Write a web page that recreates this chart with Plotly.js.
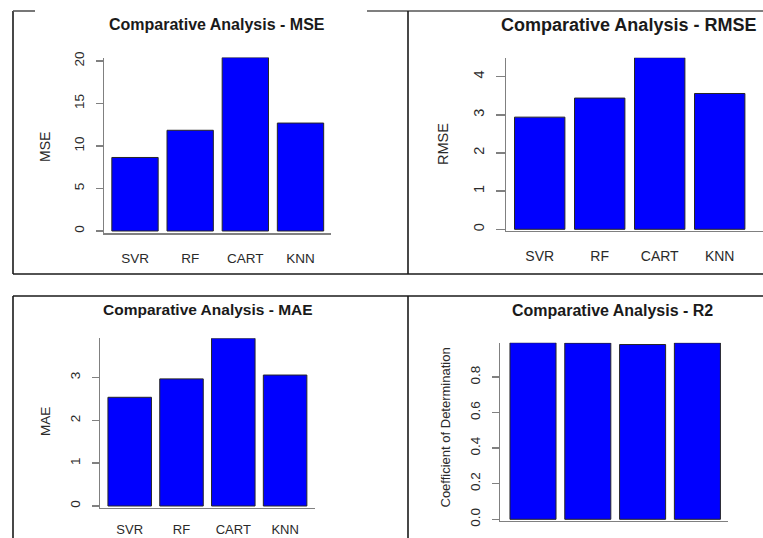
<!DOCTYPE html>
<html>
<head>
<meta charset="utf-8">
<script src="https://cdn.plot.ly/plotly-3.0.1.min.js"></script>
<style>html,body{margin:0;padding:0;background:#fff;}#chart{width:763px;height:538px;}</style>
</head>
<body>
<div id="chart"></div>
<script>
// ---- data ----
const categories = ['SVR', 'RF', 'CART', 'KNN'];
const mseValues  = [8.65, 11.85, 20.4, 12.7];
const rmseValues = [2.94, 3.44, 4.50, 3.56];
const maeValues  = [2.54, 2.97, 3.92, 3.06];
const r2Values   = [0.993, 0.991, 0.983, 0.992];
const mseTicks  = [0, 5, 10, 15, 20];
const rmseTicks = [0, 1, 2, 3, 4];
const maeTicks  = [0, 1, 2, 3];
const r2Ticks   = [0, 0.2, 0.4, 0.6, 0.8];
const titles = ['Comparative Analysis - MSE', 'Comparative Analysis - RMSE',
                'Comparative Analysis - MAE', 'Comparative Analysis - R2'];
const yLabels = ['MSE', 'RMSE', 'MAE', 'Coefficient of Determination'];

// ---- layout geometry (pixels) ----
const W = 763, H = 538;
const FONT = '"Liberation Sans", Arial, Helvetica, sans-serif';
const panels = [
  {vals: mseValues,  ticks: mseTicks,  fmt: '',    axisX: 104, axisR: 331, c0: 135,   sp: 55.17, zeroY: 231,   ppu: 8.5,   lineY: 233.3,
   title: [217, 25, 16], ylab: [45, 147, 14], tickFont: 13.5, xFont: 13.5, xStand: 12, ticklen: 7, showX: true},
  {vals: rmseValues, ticks: rmseTicks, fmt: '',    axisX: 506, axisR: 763, c0: 539.7, sp: 60,    zeroY: 229.3, ppu: 38.15, lineY: 230.7,
   title: [628, 25.5, 18], ylab: [443, 144, 14.5], tickFont: 14.5, xFont: 14, xStand: 12, ticklen: 9, showX: true},
  {vals: maeValues,  ticks: maeTicks,  fmt: '',    axisX: 100, axisR: 315, c0: 129.7, sp: 51.8,  zeroY: 506,   ppu: 42.8,  lineY: 507.7,
   title: [207.7, 309, 15.5], ylab: [45, 422, 13.5], tickFont: 13.5, xFont: 13, xStand: 9, ticklen: 7, showX: true},
  {vals: r2Values,   ticks: r2Ticks,   fmt: '.1f', axisX: 500, axisR: 728, c0: 533,   sp: 54.8,  zeroY: 519.3, ppu: 177.8, lineY: 520.7,
   title: [612.5, 310, 16], ylab: [445, 427.5, 13], tickFont: 13.5, xFont: 13, xStand: 12, ticklen: 7, showX: false}
];

const px = x => x / W;
const py = y => 1 - y / H;

const data = [];
const layout = {
  width: W, height: H,
  margin: {l: 0, r: 0, t: 0, b: 0},
  paper_bgcolor: '#ffffff', plot_bgcolor: '#ffffff',
  showlegend: false,
  bargap: 0.16,
  font: {family: FONT, color: '#222'},
  annotations: [],
  shapes: []
};

panels.forEach((p, i) => {
  const n = i + 1;
  const xa = n === 1 ? 'xaxis' : 'xaxis' + n;
  const ya = n === 1 ? 'yaxis' : 'yaxis' + n;
  const xr = n === 1 ? 'x' : 'x' + n;
  const yr = n === 1 ? 'y' : 'y' + n;
  const maxV = Math.max(...p.vals);
  const topPx = p.zeroY - maxV * p.ppu;
  data.push({
    type: 'bar', x: categories, y: p.vals, xaxis: xr, yaxis: yr,
    marker: {color: '#0000FF', line: {color: '#262626', width: 1}},
    hoverinfo: 'x+y'
  });
  layout[xa] = {
    domain: [px(p.axisX), px(p.axisR)],
    anchor: yr,
    type: 'category',
    range: [(p.axisX - p.c0) / p.sp, (p.axisR - p.c0) / p.sp],
    showline: true, linecolor: '#808080', linewidth: 1.5,
    showgrid: false, zeroline: false,
    ticks: '', showticklabels: p.showX,
    ticklabelstandoff: p.xStand,
    tickfont: {family: FONT, size: p.xFont, color: '#2a2a2a'},
    fixedrange: true
  };
  layout[ya] = {
    domain: [py(p.lineY), py(topPx)],
    anchor: xr,
    range: [-(p.lineY - p.zeroY) / p.ppu, maxV],
    showline: true, linecolor: '#808080', linewidth: 1.5,
    showgrid: false, zeroline: false,
    tickmode: 'array', tickvals: p.ticks,
    tickformat: p.fmt,
    ticks: 'outside', ticklen: p.ticklen, tickcolor: '#808080', tickwidth: 1.5,
    tickangle: -90,
    ticklabelstandoff: 6,
    tickfont: {family: FONT, size: p.tickFont, color: '#2a2a2a'},
    fixedrange: true
  };
  layout.annotations.push({
    xref: 'paper', yref: 'paper', x: px(p.title[0]), y: py(p.title[1]),
    xanchor: 'center', yanchor: 'middle', showarrow: false,
    text: '<b>' + titles[i] + '</b>',
    font: {family: FONT, size: p.title[2], color: '#1a1a1a'}
  });
  layout.annotations.push({
    xref: 'paper', yref: 'paper', x: px(p.ylab[0]), y: py(p.ylab[1]),
    xanchor: 'center', yanchor: 'middle', showarrow: false, textangle: -90,
    text: yLabels[i],
    font: {family: FONT, size: p.ylab[2], color: '#2a2a2a'}
  });
});

// panel frames
const frame = (x0, y0, x1, y1, c) => layout.shapes.push({
  type: 'line', xref: 'paper', yref: 'paper',
  x0: px(x0), y0: py(y0), x1: px(x1), y1: py(y1),
  line: {color: c || '#1a1a1a', width: 1.6}
});
frame(13, 11, 13, 274);
frame(13, 11, 35, 11, '#555');
frame(367, 11, 763, 11, '#555');
frame(408, 11, 408, 274);
frame(13, 274, 763, 274);
frame(13, 296, 763, 296);
frame(13, 296, 13, 538);
frame(408, 296, 408, 538);

Plotly.newPlot('chart', data, layout, {displayModeBar: false, staticPlot: true});
</script>
</body>
</html>
